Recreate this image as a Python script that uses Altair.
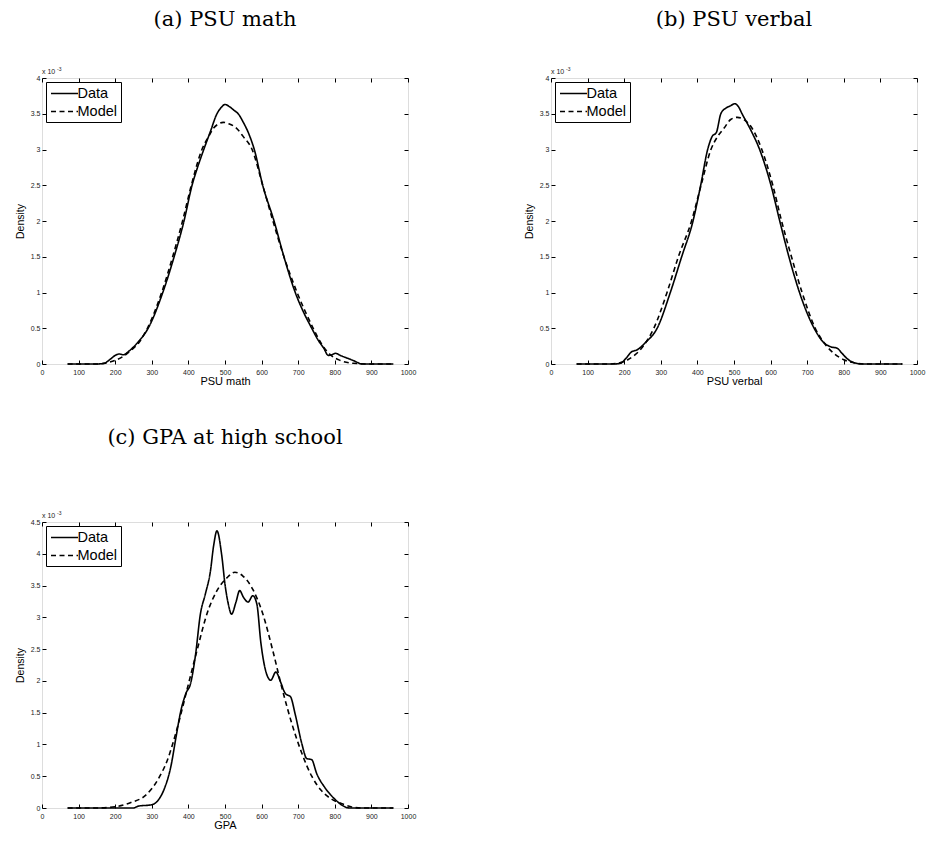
import altair as alt
import pandas as pd

# ---------------- data (density values in units of 1e-3) ----------------
XTICKS = [0, 100, 200, 300, 400, 500, 600, 700, 800, 900, 1000]
YTICKS_AB = [0, 0.5, 1, 1.5, 2, 2.5, 3, 3.5, 4]
YTICKS_C = [0, 0.5, 1, 1.5, 2, 2.5, 3, 3.5, 4, 4.5]
SERIES = ["Data", "Model"]

A_DATA_X = [70, 150, 170, 185, 200, 210, 222, 240, 263, 290, 330, 361, 388, 410, 425, 442, 460, 478, 490, 500,
            512, 524, 536, 550, 565, 580, 603, 634, 661, 692, 715, 737, 755, 770, 782, 792, 802, 815, 830, 850, 876, 960]
A_DATA_Y = [0, 0, 0.01, 0.06, 0.12, 0.14, 0.13, 0.19, 0.31, 0.5, 1.0, 1.5, 2.0, 2.5, 2.75, 3.0, 3.25, 3.5, 3.59, 3.63,
            3.6, 3.55, 3.5, 3.38, 3.22, 3.0, 2.5, 2.0, 1.5, 1.0, 0.72, 0.5, 0.33, 0.22, 0.12, 0.13, 0.15, 0.12, 0.09, 0.05, 0, 0]
A_MODEL_X = [70, 150, 180, 200, 220, 245, 265, 288, 327, 357, 384, 408, 437, 455, 469, 483, 495, 510, 531, 550,
             574, 603, 631, 661, 697, 741, 765, 790, 815, 850, 900, 960]
A_MODEL_Y = [0, 0, 0.02, 0.05, 0.1, 0.2, 0.3, 0.5, 1.0, 1.5, 2.0, 2.5, 3.0, 3.18, 3.3, 3.36, 3.38, 3.36, 3.3, 3.18,
             3.0, 2.5, 2.0, 1.5, 1.0, 0.5, 0.27, 0.12, 0.05, 0.01, 0, 0]

B_DATA_X = [70, 170, 190, 205, 220, 236, 258, 290, 326, 357, 388, 409, 428, 440, 452, 464, 478, 490, 502, 512,
            522, 545, 570, 601, 625, 650, 679, 719, 745, 765, 782, 795, 808, 822, 850, 960]
B_DATA_Y = [0, 0, 0.01, 0.08, 0.17, 0.2, 0.3, 0.5, 1.0, 1.5, 2.0, 2.5, 3.0, 3.18, 3.24, 3.5, 3.58, 3.61, 3.64, 3.6,
            3.5, 3.28, 3.0, 2.5, 2.0, 1.5, 1.0, 0.5, 0.3, 0.24, 0.22, 0.15, 0.08, 0.03, 0, 0]
B_MODEL_X = [70, 160, 190, 210, 230, 255, 281, 317, 348, 384, 410, 437, 455, 473, 491, 509, 527, 549, 576, 606,
             630, 657, 686, 722, 750, 775, 800, 825, 860, 960]
B_MODEL_Y = [0, 0, 0.02, 0.06, 0.13, 0.27, 0.5, 1.0, 1.5, 2.0, 2.5, 3.0, 3.18, 3.3, 3.42, 3.45, 3.42, 3.3, 3.0, 2.5,
             2.0, 1.5, 1.0, 0.5, 0.27, 0.14, 0.06, 0.02, 0, 0]

C_DATA_X = [70, 250, 263, 299, 317, 334, 352, 366, 379, 393, 406, 419, 433, 446, 460, 469, 478, 491, 500, 509,
            518, 530, 540, 551, 563, 576, 587, 598, 612, 625, 639, 652, 665, 679, 692, 710, 723, 737, 750, 773,
            800, 818, 840, 960]
C_DATA_Y = [0, 0, 0.03, 0.05, 0.12, 0.3, 0.65, 1.11, 1.52, 1.8, 1.96, 2.39, 3.06, 3.36, 3.72, 4.13, 4.36, 3.98, 3.52, 3.21,
            3.05, 3.24, 3.42, 3.31, 3.24, 3.34, 3.21, 2.6, 2.14, 2.01, 2.14, 1.98, 1.8, 1.75, 1.47, 1.01, 0.78, 0.76, 0.55, 0.32,
            0.14, 0.05, 0, 0]
C_MODEL_X = [70, 150, 200, 245, 281, 317, 343, 370, 397, 424, 451, 478, 505, 527, 549, 576, 603, 630, 656, 683,
             710, 737, 764, 791, 818, 844, 870, 960]
C_MODEL_Y = [0, 0, 0.02, 0.09, 0.19, 0.45, 0.76, 1.27, 1.88, 2.49, 3.06, 3.42, 3.62, 3.71, 3.65, 3.44, 3.06, 2.49, 1.88, 1.32,
             0.86, 0.5, 0.27, 0.14, 0.07, 0.02, 0, 0]

SANS = "Liberation Sans"
SERIF = "DejaVu Serif"
W, H = 366, 286
TK = 4


def make_df(dx, dy, mx, my):
    rows = [{"x": a, "y": b, "series": "Data"} for a, b in zip(dx, dy)]
    rows += [{"x": a, "y": b, "series": "Model"} for a, b in zip(mx, my)]
    return pd.DataFrame(rows)


def axis(orient, values, title=None, labels=True, fmt="~g"):
    pad = 4 if orient in ("bottom", "top") else 2
    kw = dict(orient=orient, values=values, format=fmt, domain=False, grid=False,
              tickSize=TK, offset=-TK, tickColor="black", tickWidth=1,
              labelFont=SANS, labelFontSize=7, labelColor="#222", labelFlush=False,
              labelPadding=pad if labels else 0, labels=labels)
    if title:
        kw.update(title=title, titleFont=SANS, titleFontSize=11 if orient == "bottom" else 10.5,
                  titleFontWeight="normal", titleColor="black", titlePadding=0 if orient == "bottom" else 5)
    else:
        kw.update(title=None)
    return alt.Axis(**kw)


def panel(title, xlabel, dx, dy, mx, my, ymax, yticks, toff):
    df = make_df(dx, dy, mx, my)
    base = alt.Chart(df)
    xs = alt.Scale(domain=[0, 1000], nice=False, zero=False)
    ys = alt.Scale(domain=[0, ymax], nice=False)
    lines = base.mark_line(color="black", strokeWidth=1.6, interpolate="monotone").encode(
        x=alt.X("x:Q", scale=xs, axis=axis("bottom", XTICKS, xlabel, fmt="d")),
        y=alt.Y("y:Q", scale=ys, axis=axis("left", yticks, "Density")),
        strokeDash=alt.StrokeDash(
            "series:N",
            scale=alt.Scale(domain=SERIES, range=[[1, 0], [5, 3.5]]),
            legend=alt.Legend(orient="top-left", offset=4, title=None, strokeColor="black",
                              fillColor="white", padding=3.5, rowPadding=3, cornerRadius=0,
                              symbolType="M-2,0H2", symbolSize=182, symbolStrokeWidth=1.6,
                              symbolStrokeColor="black", symbolOffset=7,
                              labelFont=SANS, labelFontSize=14.5,
                              labelColor="black", labelOffset=5),
        ),
    )
    frame = base.mark_point(opacity=0).encode(
        x=alt.X("x:Q", scale=xs, axis=axis("top", XTICKS, labels=False)),
        y=alt.Y("y:Q", scale=ys, axis=axis("right", yticks, labels=False)),
    )
    mult = alt.Chart(pd.DataFrame({"t": ["x 10"]})).mark_text(
        font=SANS, fontSize=7, align="left", baseline="bottom", color="#222"
    ).encode(text="t:N", x=alt.value(0), y=alt.value(-3))
    expo = alt.Chart(pd.DataFrame({"t": ["-3"]})).mark_text(
        font=SANS, fontSize=5, align="left", baseline="bottom", color="#222"
    ).encode(text="t:N", x=alt.value(15), y=alt.value(-6))
    return alt.layer(lines, frame, mult, expo).resolve_axis(x="independent", y="independent").properties(
        width=W, height=H,
        title=alt.TitleParams(title, font=SERIF, fontSize=21, fontWeight="normal", anchor="middle",
                              frame="group", color="black", offset=toff),
    )


pa = panel("(a) PSU math", "PSU math", A_DATA_X, A_DATA_Y, A_MODEL_X, A_MODEL_Y, 4, YTICKS_AB, 37)
pb = panel("(b) PSU verbal", "PSU verbal", B_DATA_X, B_DATA_Y, B_MODEL_X, B_MODEL_Y, 4, YTICKS_AB, 37)
pc = panel("(c) GPA at high school", "GPA", C_DATA_X, C_DATA_Y, C_MODEL_X, C_MODEL_Y, 4.5, YTICKS_C, 63)

row1 = alt.hconcat(pa, pb, spacing=106).resolve_scale(strokeDash="independent")
chart = alt.vconcat(row1, pc, spacing=39).resolve_scale(strokeDash="independent").properties(
    padding={"left": 6, "top": 0, "right": 0, "bottom": 0}
).configure_view(stroke="black", strokeWidth=1.5).configure(background="white")

chart.save("out.html", embed_options={"renderer": "svg", "actions": False})
